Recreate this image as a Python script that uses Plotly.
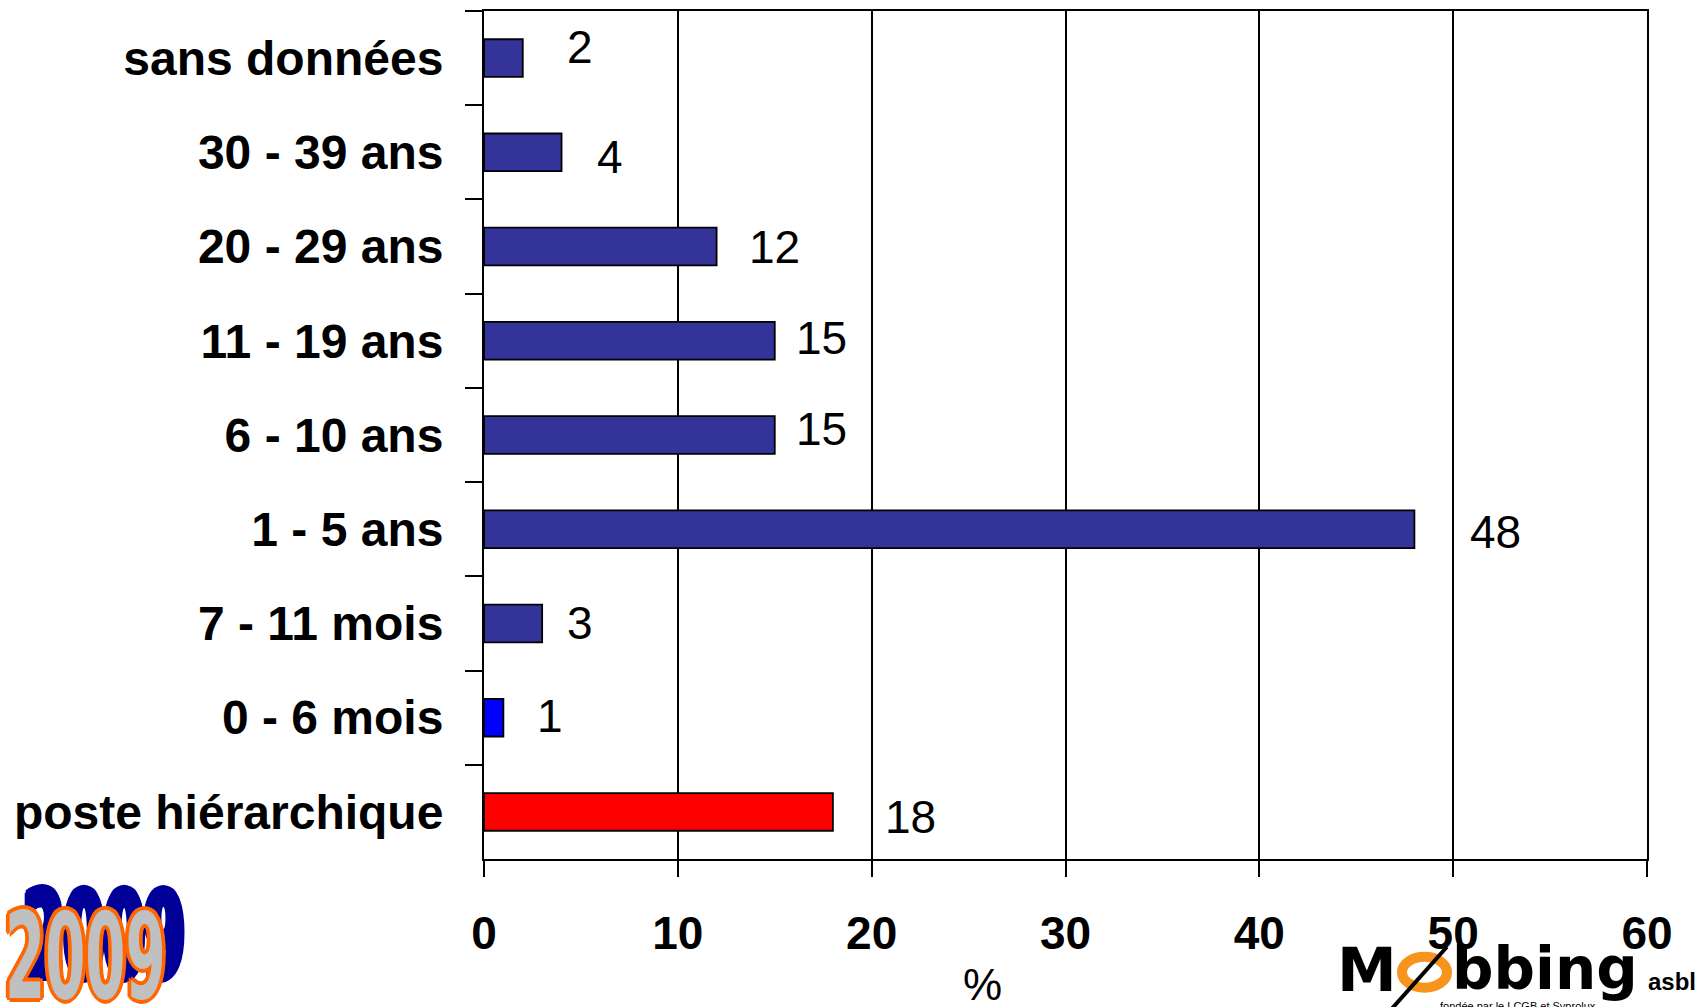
import plotly.graph_objects as go

# ---- data (display order, top to bottom) ----
categories = ["sans données", "30 - 39 ans", "20 - 29 ans", "11 - 19 ans",
              "6 - 10 ans", "1 - 5 ans", "7 - 11 mois", "0 - 6 mois",
              "poste hiérarchique"]
values = [2, 4, 12, 15, 15, 48, 3, 1, 18]
x_ticks = [0, 10, 20, 30, 40, 50, 60]

# ---- styles ----
bar_colors = ["#333399"] * 7 + ["#0000FF", "#FF0000"]
label_xshift = [57, 48, 58, 47, 47, 81, 38, 47, 78]
label_yshift = [11, -5, 0, 3, 6, -3, 0, 2, -5]

W, H = 1707, 1007
L, R, T, B = 484, 1647, 9, 859
FONT = "Liberation Sans, Arial, sans-serif"
SX_2009 = 0.535


def px_x(px):
    return (px - L) / (R - L)


def px_y(py):
    return (B - py) / (B - T)


fig = go.Figure()
fig.add_trace(go.Bar(
    x=values, y=categories, orientation="h",
    marker=dict(color=bar_colors, line=dict(color="black", width=1.8)),
    hoverinfo="x+y", showlegend=False,
))

annotations = []
for c, v, dx, dy in zip(categories, values, label_xshift, label_yshift):
    annotations.append(dict(
        x=v, y=c, xref="x", yref="y", text=str(v), showarrow=False,
        xanchor="center", yanchor="middle", xshift=dx, yshift=dy,
        font=dict(family=FONT, size=46, color="black"),
    ))

# axis title "%"
annotations.append(dict(
    x=px_x(982), y=px_y(985), xref="paper", yref="paper", text="%",
    showarrow=False, xanchor="center", yanchor="middle",
    font=dict(family=FONT, size=44, color="black"),
))

# "2009" badge (bottom-left); horizontally condensed afterwards by SX_2009
ox = 3 / SX_2009
outline = ", ".join(f"{dx:.1f}px {dy}px 0 #FF6600" for dx, dy in
                    [(ox, 0), (-ox, 0), (0, 3), (0, -3),
                     (ox * 0.7, 2), (-ox * 0.7, 2), (ox * 0.7, -2), (-ox * 0.7, -2)])
bx = 15 / SX_2009
blue = ", ".join(f"{bx + dx:.1f}px {-17 + dy}px 0 #000099" for dx, dy in
                 [(0, 0), (ox, 0), (-ox, 0), (0, 3), (0, -3),
                  (ox * 0.7, 2), (-ox * 0.7, 2), (ox * 0.7, -2), (-ox * 0.7, -2)])
annotations.append(dict(
    x=px_x(3), y=px_y(957), xref="paper", yref="paper", text="<b>2009</b>",
    showarrow=False, xanchor="left", yanchor="middle",
    font=dict(family="DejaVu Sans Condensed, Liberation Sans Narrow, sans-serif",
              size=120, color="#C0C0C0", shadow=outline + ", " + blue),
))

# "Mobbing asbl" logo (bottom-right)
LOGO = "DejaVu Sans, sans-serif"
annotations.append(dict(
    x=px_x(1399), y=px_y(970), xref="paper", yref="paper", text="<b>M</b>",
    showarrow=False, xanchor="right", yanchor="middle",
    font=dict(family=LOGO, size=60, color="black"),
))
annotations.append(dict(
    x=px_x(1450), y=px_y(969), xref="paper", yref="paper", text="<b>bbing</b>",
    showarrow=False, xanchor="left", yanchor="middle",
    font=dict(family=LOGO, size=58, color="black"),
))
annotations.append(dict(
    x=px_x(1646), y=px_y(982), xref="paper", yref="paper", text="<b>asbl</b>",
    showarrow=False, xanchor="left", yanchor="middle",
    font=dict(family=FONT, size=24, color="black"),
))
annotations.append(dict(
    x=px_x(1518), y=px_y(1006), xref="paper", yref="paper",
    text="fondée par le LCGB et Syprolux",
    showarrow=False, xanchor="center", yanchor="middle",
    font=dict(family=FONT, size=11, color="black"),
))

shapes = [
    dict(type="circle", xref="paper", yref="paper",
         x0=px_x(1402), x1=px_x(1447), y0=px_y(957), y1=px_y(988),
         line=dict(color="#F7941D", width=10), fillcolor="rgba(0,0,0,0)"),
    dict(type="line", xref="paper", yref="paper",
         x0=px_x(1391), y0=px_y(1010), x1=px_x(1447), y1=px_y(947),
         line=dict(color="black", width=4)),
]

fig.update_layout(
    width=W, height=H,
    margin=dict(l=L, r=W - R, t=T, b=H - B, pad=0),
    paper_bgcolor="white", plot_bgcolor="white",
    bargap=0.6,
    annotations=annotations, shapes=shapes,
    xaxis=dict(
        range=[0, 60], tickvals=x_ticks, ticktext=[str(t) for t in x_ticks],
        showgrid=True, gridcolor="black", gridwidth=1.5,
        showline=True, linecolor="black", linewidth=2, mirror=True,
        ticks="outside", ticklen=16, tickwidth=2, tickcolor="black",
        tickfont=dict(family=FONT, size=46, color="black", weight="bold"),
        ticklabelstandoff=17, zeroline=False, fixedrange=True,
    ),
    yaxis=dict(
        categoryorder="array", categoryarray=categories, autorange="reversed",
        showline=True, linecolor="black", linewidth=2, mirror=True,
        ticks="outside", ticklen=17, tickwidth=2, tickcolor="black",
        tickson="boundaries", showgrid=False,
        tickfont=dict(family=FONT, size=48, color="black", weight="bold"),
        ticklabelstandoff=29, fixedrange=True,
    ),
)

post = """
document.body.style.margin = '0';
document.body.style.overflow = 'hidden';
document.querySelectorAll('.annotation-text').forEach(function (t) {
  if (t.textContent === '2009') {
    var b = t.getBBox();
    t.setAttribute('transform', 'translate(' + b.x + ',0) scale(%s,1) translate(' + (-b.x) + ',0)');
  }
});
""" % SX_2009

fig.write_html("out.html", post_script=post, config={"displayModeBar": False})
